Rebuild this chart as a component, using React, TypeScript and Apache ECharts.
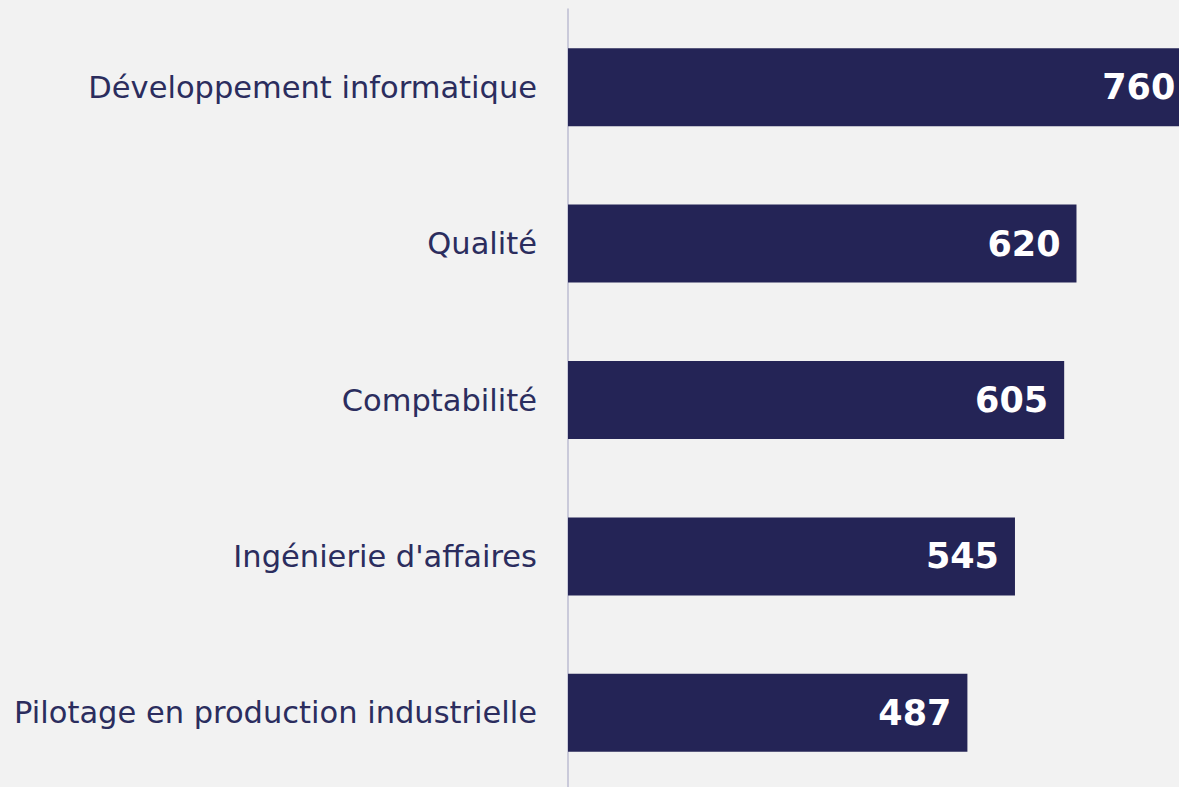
import React, { useEffect, useRef } from "react";
import * as echarts from "echarts";

const categories = [
  "Développement informatique",
  "Qualité",
  "Comptabilité",
  "Ingénierie d'affaires",
  "Pilotage en production industrielle",
];
const values = [760, 620, 605, 545, 487];

export default function App() {
  const ref = useRef<HTMLDivElement>(null);
  useEffect(() => {
    const chart = echarts.init(ref.current!, null, { renderer: "svg" });
    chart.setOption({
      animation: false,
      backgroundColor: "#f2f2f2",
      grid: { left: 568, right: 0, top: 9, height: 782, containLabel: false, outerBoundsMode: "none" },
      xAxis: {
        type: "value",
        min: 0,
        max: 745,
        show: false,
      },
      yAxis: {
        type: "category",
        data: categories,
        inverse: true,
        axisLine: { show: true, lineStyle: { color: "#bdbdd2", width: 1.5 } },
        axisTick: { show: false },
        axisLabel: {
          color: "#2b2d5e",
          fontSize: 30.5,
          fontFamily: "'DejaVu Sans', sans-serif",
          margin: 31,
        },
      },
      series: [
        {
          type: "bar",
          data: values,
          barWidth: 78,
          clip: false,
          itemStyle: { color: "#242456" },
          label: {
            show: true,
            position: "insideRight",
            distance: 16,
            color: "#ffffff",
            fontSize: 35,
            fontWeight: "bold",
            fontFamily: "'DejaVu Sans', sans-serif",
          },
        },
      ],
    });
    return () => chart.dispose();
  }, []);
  return (
    <div
      style={{ position: "fixed", left: 0, top: 0, width: 1179, height: 787, overflow: "hidden", background: "#f2f2f2" }}
    >
      <div ref={ref} style={{ width: 1179, height: 800 }} />
    </div>
  );
}
